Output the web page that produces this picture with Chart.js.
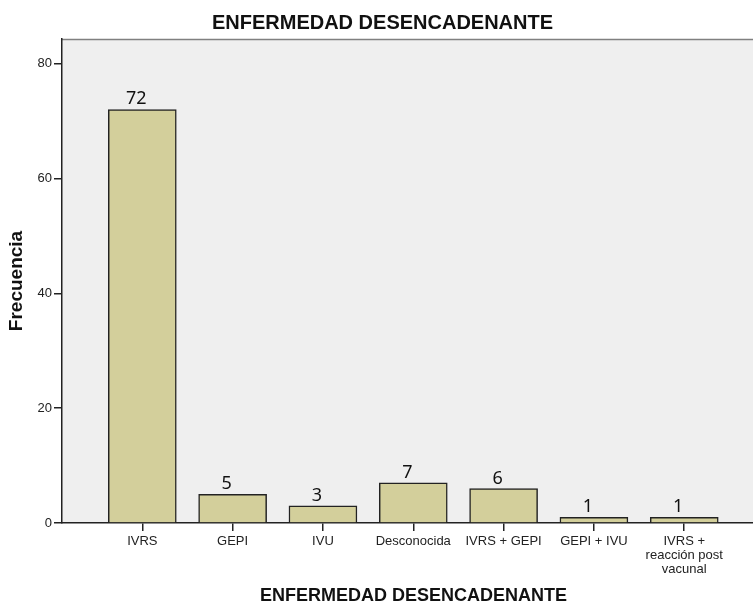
<!DOCTYPE html>
<html>
<head>
<meta charset="utf-8">
<script src="https://cdn.jsdelivr.net/npm/chart.js@4.4.1/dist/chart.umd.min.js"></script>
<style>
  html, body { margin: 0; padding: 0; background: #fff; overflow: hidden; }
  #wrap { width: 765px; height: 605px; }
</style>
</head>
<body>
<div id="wrap"><canvas id="enfermedadChart" width="765" height="605"></canvas></div>
<script>
// categorías y frecuencias
const categories = ["IVRS", "GEPI", "IVU", "Desconocida", "IVRS + GEPI", "GEPI + IVU", ["IVRS +", "reacción post", "vacunal"]];
const counts = [72, 5, 3, 7, 6, 1, 1];
const yTicks = [0, 20, 40, 60, 80];

// fondo gris del área de trazado + borde superior
const plotBackground = {
  id: "plotBackground",
  beforeDraw(chart) {
    const { ctx, chartArea } = chart;
    ctx.save();
    ctx.fillStyle = "#efefef";
    ctx.fillRect(chartArea.left, chartArea.top, chartArea.right - chartArea.left, chartArea.bottom - chartArea.top);
    ctx.strokeStyle = "#808080";
    ctx.lineWidth = 1.5;
    ctx.beginPath();
    ctx.moveTo(chartArea.left, chartArea.top + 0.5);
    ctx.lineTo(chartArea.right, chartArea.top + 0.5);
    ctx.stroke();
    ctx.restore();
  },
};

// etiquetas de valor encima de cada barra
const valueLabels = {
  id: "valueLabels",
  afterDatasetsDraw(chart) {
    const { ctx } = chart;
    const meta = chart.getDatasetMeta(0);
    ctx.save();
    ctx.font = "18px 'Noto Sans'";
    ctx.fillStyle = "#111";
    ctx.textAlign = "center";
    ctx.textBaseline = "alphabetic";
    meta.data.forEach((bar, i) => {
      ctx.fillText(String(counts[i]), bar.x - 6, bar.y - 5);
    });
    ctx.restore();
  },
};

const ctx = document.getElementById("enfermedadChart");
const chart = new Chart(ctx, {
  type: "bar",
  data: {
    datasets: [
      {
        data: counts.map((v, i) => ({ x: i, y: v })),
        backgroundColor: "#d3cf9b",
        borderColor: "#222",
        borderWidth: 1.5,
        barThickness: 68,
      },
    ],
  },
  options: {
    responsive: false,
    animation: false,
    layout: { padding: 0 },
    plugins: {
      legend: { display: false },
      tooltip: { enabled: false },
      title: {
        display: true,
        text: "ENFERMEDAD DESENCADENANTE",
        color: "#111",
        font: { family: "'Liberation Sans', Arial", size: 20, weight: "bold", lineHeight: 1.2 },
        padding: { top: 11, bottom: 4 },
      },
    },
    scales: {
      x: {
        type: "linear",
        offset: false,
        min: -0.889,
        max: 6.894,
        afterFit: (scale) => { scale.height = 82; },
        grid: { offset: false, drawOnChartArea: false, drawTicks: true, tickLength: 8, color: "#222", lineWidth: 1.5 },
        border: { display: true, color: "#222", width: 1.5 },
        ticks: {
          stepSize: 1,
          includeBounds: false,
          autoSkip: false,
          maxRotation: 0,
          padding: 3,
          color: "#222",
          font: { family: "'Liberation Sans', Arial", size: 13, lineHeight: 1.1 },
          callback: (value) => (Number.isInteger(value) && categories[value] !== undefined ? categories[value] : ""),
        },
        title: {
          display: true,
          text: "ENFERMEDAD DESENCADENANTE",
          color: "#111",
          font: { family: "'Liberation Sans', Arial", size: 18, weight: "bold", lineHeight: 1 },
          padding: { top: 0, bottom: 0 },
        },
      },
      y: {
        min: 0,
        max: 84.27,
        afterFit: (scale) => { scale.width = 62; },
        afterBuildTicks: (scale) => { scale.ticks = yTicks.map((v) => ({ value: v })); },
        grid: { drawOnChartArea: false, drawTicks: true, tickLength: 8, color: "#222", lineWidth: 1.5 },
        border: { display: true, color: "#222", width: 1.5 },
        ticks: {
          padding: 2,
          color: "#222",
          font: { family: "'Liberation Sans', Arial", size: 13 },
        },
        title: {
          display: true,
          text: "Frecuencia",
          color: "#111",
          font: { family: "'Liberation Sans', Arial", size: 19, weight: "bold", lineHeight: 1 },
          padding: { top: 7, bottom: 0 },
        },
      },
    },
  },
  plugins: [plotBackground, valueLabels],
});
</script>
</body>
</html>
